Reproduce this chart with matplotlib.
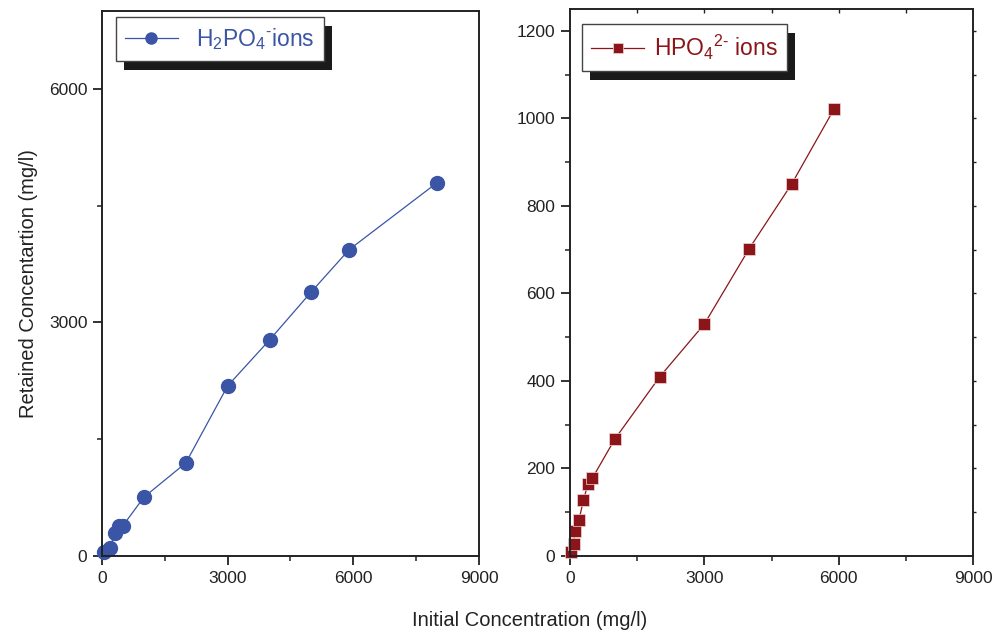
import matplotlib
matplotlib.use("Agg")
import matplotlib.pyplot as plt
from matplotlib.ticker import MultipleLocator
from matplotlib.patches import Rectangle

plt.rcParams['font.family'] = ['Liberation Sans', 'DejaVu Sans']
plt.rcParams['mathtext.default'] = 'regular'

# H2PO4- ions (left panel)
h2po4_init = [50, 200, 300, 400, 500, 1000, 2000, 3000, 4000, 5000, 5900, 8000]
h2po4_ret = [50, 100, 300, 390, 390, 755, 1195, 2185, 2775, 3395, 3935, 4795]

# HPO4 2- ions (right panel)
hpo4_init = [30, 80, 110, 200, 300, 400, 500, 1000, 2000, 3000, 4000, 4950, 5900]
hpo4_ret = [8, 27, 58, 82, 128, 164, 178, 267, 409, 530, 702, 850, 1022]

blue = '#3a55a6'
red = '#8b1518'
dark = '#222222'

fig = plt.figure(figsize=(9.95, 6.35), dpi=100)
ax1 = fig.add_axes([102 / 995, 79 / 635, 377 / 995, 545 / 635])
ax2 = fig.add_axes([570 / 995, 79 / 635, 403 / 995, 547 / 635])

ax1.plot(h2po4_init, h2po4_ret, '-o', color=blue, lw=0.9, ms=10,
         label='H$_2$PO$_4$$^{\u2010}$ions', clip_on=False)
ax2.plot(hpo4_init, hpo4_ret, '-s', color=red, lw=0.9, ms=8.5,
         markeredgecolor='#f0d8d8', markeredgewidth=0.5,
         label='HPO$_4$$^{2\u2010}$ ions', clip_on=False)

ax1.set_xlim(0, 9000)
ax1.set_ylim(0, 7000)
ax1.set_xticks([0, 3000, 6000, 9000])
ax1.set_yticks([0, 3000, 6000])
ax1.xaxis.set_minor_locator(MultipleLocator(1500))
ax1.yaxis.set_minor_locator(MultipleLocator(1500))

ax2.set_xlim(0, 9000)
ax2.set_ylim(0, 1250)
ax2.set_xticks([0, 3000, 6000, 9000])
ax2.set_yticks(range(0, 1201, 200))
ax2.xaxis.set_minor_locator(MultipleLocator(1500))
ax2.yaxis.set_minor_locator(MultipleLocator(100))

for ax in (ax1, ax2):
    for s in ax.spines.values():
        s.set_linewidth(1.4)
        s.set_color(dark)
    ax.tick_params(which='major', direction='out', length=6.5, width=1.3,
                   labelsize=12.5, colors=dark, pad=4)
    ax.tick_params(which='minor', direction='out', length=3.5, width=1.1,
                   colors=dark)

# small mirrored ticks on top and right of the right panel
top = ax2.secondary_xaxis('top')
top.set_xticks([1500, 3000, 4500, 6000, 7500])
top.tick_params(direction='in', length=3, width=1.0, labeltop=False, colors=dark)
top.spines['top'].set_visible(False)
right = ax2.secondary_yaxis('right')
right.set_yticks(range(100, 1201, 100))
right.tick_params(direction='out', length=2.5, width=1.0, labelright=False, colors=dark)
right.spines['right'].set_visible(False)

ax1.set_ylabel('Retained Concentartion (mg/l)', fontsize=14.5, color=dark, labelpad=8)
fig.text(530 / 995, 1 - 620 / 635, 'Initial Concentration (mg/l)', fontsize=14.5,
         color=dark, ha='center', va='center')

legs = []
for ax, col, anchor, pad in ((ax1, blue, (0.037, 0.989), 0.8),
                             (ax2, red, (0.03, 0.973), 0.45)):
    leg = ax.legend(loc='upper left', bbox_to_anchor=anchor, borderaxespad=0,
                    fancybox=False, framealpha=1, edgecolor='#444444',
                    fontsize=16.5, handlelength=2.3, markerscale=0.8,
                    borderpad=0.4, handletextpad=pad, labelcolor=col)
    leg.get_frame().set_linewidth(1.0)
    legs.append(leg)

fig.canvas.draw()
for leg in legs:
    bb = leg.get_window_extent()
    shadow = Rectangle((bb.x0 + 8, bb.y0 - 9), bb.width, bb.height,
                       transform=None, facecolor='#1a1a1a', edgecolor='none',
                       zorder=4)
    leg.axes.add_artist(shadow)

fig.savefig('out.png', dpi=100)
